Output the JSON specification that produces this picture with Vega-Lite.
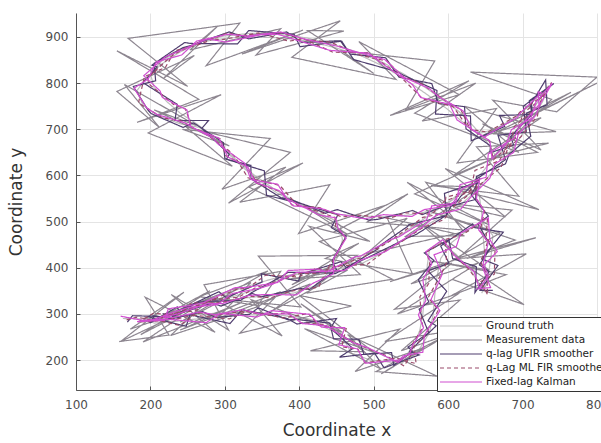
{
"$schema": "https://vega.github.io/schema/vega-lite/v6.json",
"width": 521, "height": 377,
"autosize": "none",
"padding": {"left": 76, "top": 13, "right": 4, "bottom": 53},
"background": "white",
"config": {
  "view": {"stroke": null},
  "axis": {"gridColor": "#e4e4e4", "gridWidth": 1, "domainColor": "#555", "domainWidth": 1, "tickColor": "#555", "tickSize": -4, "labelColor": "#4d4d4d", "labelFont": "DejaVu Sans", "labelFontSize": 12, "labelFlush": false, "titleFont": "DejaVu Sans", "titleFontSize": 17, "titleFontWeight": "normal", "titleColor": "#333"},
  "axisX": {"labelPadding": 13, "titlePadding": 12},
  "axisY": {"labelPadding": 12, "titlePadding": 20},
  "legend": {"orient": "none", "legendX": 361, "legendY": 304, "symbolType": "stroke", "symbolSize": 1764, "clipHeight": 14, "rowPadding": 0, "padding": 2, "labelFont": "DejaVu Sans", "labelFontSize": 10.5, "labelColor": "#222", "strokeColor": "#333", "fillColor": "white", "symbolStrokeWidth": 1.2, "labelOffset": 3, "labelLimit": 300}
},
"data": {"values": [
{"i":0,"tx":163,"ty":290,"zx":158,"zy":240,"ux":169,"uy":282,"mx":168,"my":287,"kx":160,"ky":295},
{"i":1,"tx":185,"ty":289,"zx":225,"zy":254,"ux":176,"uy":296,"mx":182,"my":293,"kx":189,"ky":286},
{"i":2,"tx":208,"ty":291,"zx":193,"zy":336,"ux":219,"uy":294,"mx":204,"my":286,"kx":203,"ky":287},
{"i":3,"tx":232,"ty":300,"zx":287,"zy":260,"ux":226,"uy":290,"mx":238,"my":303,"kx":235,"ky":306},
{"i":4,"tx":258,"ty":312,"zx":228,"zy":342,"ux":262,"uy":324,"mx":260,"my":306,"kx":252,"ky":314},
{"i":5,"tx":285,"ty":325,"zx":305,"zy":265,"ux":273,"uy":327,"mx":280,"my":330,"kx":290,"ky":320},
{"i":6,"tx":312,"ty":338,"zx":272,"zy":363,"ux":321,"uy":329,"mx":318,"my":336,"kx":310,"ky":344},
{"i":7,"tx":340,"ty":352,"zx":375,"zy":392,"ux":336,"uy":346,"mx":343,"my":358,"kx":346,"ky":355},
{"i":8,"tx":368,"ty":370,"zx":343,"zy":315,"ux":375,"uy":380,"mx":362,"my":366,"kx":364,"ky":364},
{"i":9,"tx":395,"ty":385,"zx":445,"zy":405,"ux":385,"uy":390,"mx":400,"my":387,"kx":397,"ky":390},
{"i":10,"tx":425,"ty":393,"zx":390,"zy":363,"ux":437,"uy":389,"mx":423,"my":388,"kx":420,"ky":391},
{"i":11,"tx":455,"ty":398,"zx":480,"zy":453,"ux":448,"uy":387,"mx":451,"my":404,"kx":461,"ky":394},
{"i":12,"tx":485,"ty":410,"zx":435,"zy":420,"ux":488,"uy":419,"mx":491,"my":407,"kx":482,"ky":416},
{"i":13,"tx":512,"ty":432,"zx":552,"zy":387,"ux":501,"uy":429,"mx":515,"my":436,"kx":516,"ky":435},
{"i":14,"tx":538,"ty":458,"zx":518,"zy":508,"ux":546,"uy":465,"mx":533,"my":452,"kx":532,"ky":453},
{"i":15,"tx":562,"ty":484,"zx":622,"zy":469,"ux":557,"uy":472,"mx":566,"my":487,"kx":565,"ky":488},
{"i":16,"tx":588,"ty":508,"zx":543,"zy":468,"ux":598,"uy":514,"mx":594,"my":504,"kx":584,"ky":514},
{"i":17,"tx":612,"ty":530,"zx":642,"zy":575,"ux":604,"uy":534,"mx":609,"my":535,"kx":617,"ky":527},
{"i":18,"tx":632,"ty":558,"zx":577,"zy":578,"ux":637,"uy":548,"mx":626,"my":556,"kx":630,"ky":552},
{"i":19,"tx":650,"ty":590,"zx":695,"zy":555,"ux":638,"uy":598,"mx":654,"my":596,"kx":656,"ky":594},
{"i":20,"tx":668,"ty":622,"zx":638,"zy":662,"ux":677,"uy":625,"mx":671,"my":617,"kx":663,"ky":625},
{"i":21,"tx":685,"ty":655,"zx":735,"zy":670,"ux":682,"uy":646,"mx":680,"my":658,"kx":688,"ky":650},
{"i":22,"tx":700,"ty":690,"zx":660,"zy":640,"ux":711,"uy":685,"mx":698,"my":684,"kx":694,"ky":688},
{"i":23,"tx":714,"ty":725,"zx":739,"zy":765,"ux":705,"uy":735,"mx":720,"my":729,"kx":718,"ky":731},
{"i":24,"tx":727,"ty":760,"zx":630,"zy":824,"ux":733,"uy":753,"mx":723,"my":757,"kx":724,"ky":756},
{"i":25,"tx":735,"ty":795,"zx":800,"zy":813,"ux":731,"uy":807,"mx":739,"my":801,"kx":740,"ky":800},
{"i":26,"tx":722,"ty":762,"zx":746,"zy":738,"ux":712,"uy":756,"mx":719,"my":758,"kx":718,"ky":759},
{"i":27,"tx":705,"ty":728,"zx":660,"zy":763,"ux":713,"uy":733,"mx":700,"my":734,"kx":711,"ky":723},
{"i":28,"tx":690,"ty":695,"zx":725,"zy":655,"ux":684,"uy":684,"mx":694,"my":690,"kx":685,"ky":699},
{"i":29,"tx":676,"ty":662,"zx":646,"zy":712,"ux":688,"uy":666,"mx":682,"my":664,"kx":678,"ky":668},
{"i":30,"tx":665,"ty":640,"zx":720,"zy":650,"ux":656,"uy":649,"mx":661,"my":634,"kx":659,"ky":636},
{"i":31,"tx":652,"ty":672,"zx":612,"zy":627,"ux":657,"uy":664,"mx":655,"my":676,"kx":656,"ky":675},
{"i":32,"tx":635,"ty":705,"zx":665,"zy":745,"ux":624,"uy":701,"mx":629,"my":702,"kx":632,"ky":699},
{"i":33,"tx":615,"ty":738,"zx":565,"zy":718,"ux":622,"uy":749,"mx":617,"my":743,"kx":620,"ky":740},
{"i":34,"tx":592,"ty":765,"zx":637,"zy":800,"ux":587,"uy":756,"mx":597,"my":761,"kx":588,"ky":770},
{"i":35,"tx":568,"ty":792,"zx":543,"zy":742,"ux":578,"uy":799,"mx":565,"my":798,"kx":574,"ky":789},
{"i":36,"tx":542,"ty":818,"zx":582,"zy":848,"ux":534,"uy":813,"mx":537,"my":816,"kx":540,"ky":813},
{"i":37,"tx":512,"ty":845,"zx":457,"zy":870,"ux":516,"uy":855,"mx":518,"my":848,"kx":515,"ky":851},
{"i":38,"tx":480,"ty":866,"zx":500,"zy":821,"ux":468,"uy":863,"mx":483,"my":860,"kx":474,"ky":869},
{"i":39,"tx":446,"ty":884,"zx":411,"zy":914,"ux":455,"uy":892,"mx":442,"my":889,"kx":451,"ky":880},
{"i":40,"tx":410,"ty":898,"zx":460,"zy":913,"ux":404,"uy":888,"mx":408,"my":894,"kx":406,"ky":896},
{"i":41,"tx":372,"ty":906,"zx":342,"zy":861,"ux":383,"uy":911,"mx":377,"my":909,"kx":375,"ky":911},
{"i":42,"tx":335,"ty":908,"zx":375,"zy":918,"ux":332,"uy":896,"mx":329,"my":903,"kx":330,"ky":902},
{"i":43,"tx":298,"ty":902,"zx":253,"zy":872,"ux":306,"uy":911,"mx":302,"my":908,"kx":304,"ky":906},
{"i":44,"tx":265,"ty":888,"zx":290,"zy":923,"ux":255,"uy":882,"mx":268,"my":885,"kx":262,"ky":891},
{"i":45,"tx":238,"ty":866,"zx":218,"zy":811,"ux":244,"uy":877,"mx":233,"my":870,"kx":242,"ky":861},
{"i":46,"tx":214,"ty":840,"zx":259,"zy":860,"ux":205,"uy":843,"mx":220,"my":834,"kx":208,"ky":846},
{"i":47,"tx":195,"ty":812,"zx":155,"zy":782,"ux":207,"uy":805,"mx":192,"my":814,"kx":197,"ky":809},
{"i":48,"tx":182,"ty":784,"zx":212,"zy":704,"ux":177,"uy":793,"mx":187,"my":780,"kx":178,"ky":789},
{"i":49,"tx":190,"ty":752,"zx":165,"zy":797,"ux":197,"uy":741,"mx":184,"my":757,"kx":195,"ky":746},
{"i":50,"tx":212,"ty":728,"zx":262,"zy":708,"ux":201,"uy":734,"mx":216,"my":725,"kx":209,"ky":732},
{"i":51,"tx":240,"ty":712,"zx":205,"zy":742,"ux":244,"uy":704,"mx":242,"my":718,"kx":246,"ky":714},
{"i":52,"tx":266,"ty":704,"zx":306,"zy":664,"ux":258,"uy":714,"mx":262,"my":699,"kx":261,"ky":700},
{"i":53,"tx":288,"ty":675,"zx":243,"zy":700,"ux":298,"uy":671,"mx":294,"my":679,"kx":292,"ky":681},
{"i":54,"tx":306,"ty":645,"zx":361,"zy":680,"ux":300,"uy":636,"mx":301,"my":643,"kx":304,"ky":640},
{"i":55,"tx":326,"ty":615,"zx":296,"zy":570,"ux":335,"uy":622,"mx":329,"my":620,"kx":331,"ky":618},
{"i":56,"tx":347,"ty":588,"zx":382,"zy":618,"ux":335,"uy":593,"mx":344,"my":582,"kx":341,"ky":585},
{"i":57,"tx":370,"ty":562,"zx":320,"zy":542,"ux":375,"uy":552,"mx":375,"my":565,"kx":373,"ky":567},
{"i":58,"tx":396,"ty":540,"zx":441,"zy":580,"ux":389,"uy":548,"mx":390,"my":536,"kx":392,"ky":534},
{"i":59,"tx":424,"ty":524,"zx":399,"zy":474,"ux":435,"uy":518,"mx":428,"my":530,"kx":430,"ky":528},
{"i":60,"tx":455,"ty":515,"zx":515,"zy":535,"ux":451,"uy":526,"mx":457,"my":510,"kx":450,"ky":517},
{"i":61,"tx":486,"ty":512,"zx":446,"zy":477,"ux":494,"uy":503,"mx":480,"my":514,"kx":488,"ky":506},
{"i":62,"tx":516,"ty":510,"zx":546,"zy":560,"ux":506,"uy":505,"mx":521,"my":507,"kx":513,"ky":515},
{"i":63,"tx":546,"ty":514,"zx":491,"zy":499,"ux":552,"uy":524,"mx":543,"my":519,"kx":551,"ky":511},
{"i":64,"tx":574,"ty":522,"zx":619,"zy":482,"ux":565,"uy":515,"mx":578,"my":516,"kx":568,"ky":526},
{"i":65,"tx":600,"ty":540,"zx":570,"zy":585,"ux":612,"uy":544,"mx":595,"my":544,"kx":604,"ky":535},
{"i":66,"tx":622,"ty":566,"zx":722,"zy":526,"ux":617,"uy":555,"mx":628,"my":564,"kx":620,"ky":572},
{"i":67,"tx":636,"ty":585,"zx":596,"zy":615,"ux":643,"uy":594,"mx":639,"my":591,"kx":642,"ky":588},
{"i":68,"tx":642,"ty":555,"zx":677,"zy":510,"ux":631,"uy":558,"mx":637,"my":551,"kx":638,"ky":550},
{"i":69,"tx":645,"ty":520,"zx":595,"zy":540,"ux":654,"uy":512,"mx":649,"my":523,"kx":648,"ky":524},
{"i":70,"tx":646,"ty":485,"zx":686,"zy":525,"ux":640,"uy":495,"mx":643,"my":480,"kx":641,"ky":482},
{"i":71,"tx":648,"ty":450,"zx":613,"zy":420,"ux":658,"uy":445,"mx":653,"my":456,"kx":654,"ky":455},
{"i":72,"tx":650,"ty":415,"zx":705,"zy":430,"ux":642,"uy":406,"mx":644,"my":412,"kx":647,"ky":409},
{"i":73,"tx":650,"ty":380,"zx":605,"zy":340,"ux":655,"uy":392,"mx":652,"my":384,"kx":654,"ky":382},
{"i":74,"tx":648,"ty":350,"zx":678,"zy":385,"ux":636,"uy":346,"mx":653,"my":344,"kx":642,"ky":355},
{"i":75,"tx":630,"ty":395,"zx":575,"zy":415,"ux":638,"uy":402,"mx":626,"my":400,"kx":635,"ky":391},
{"i":76,"tx":610,"ty":430,"zx":655,"zy":395,"ux":606,"uy":420,"mx":607,"my":428,"kx":608,"ky":427},
{"i":77,"tx":590,"ty":455,"zx":560,"zy":500,"ux":601,"uy":461,"mx":596,"my":458,"kx":593,"ky":461},
{"i":78,"tx":575,"ty":440,"zx":615,"zy":420,"ux":568,"uy":432,"mx":571,"my":434,"kx":570,"ky":435},
{"i":79,"tx":572,"ty":405,"zx":522,"zy":370,"ux":581,"uy":416,"mx":575,"my":411,"kx":578,"ky":408},
{"i":80,"tx":570,"ty":370,"zx":605,"zy":410,"ux":560,"uy":374,"mx":574,"my":366,"kx":566,"ky":374},
{"i":81,"tx":568,"ty":335,"zx":528,"zy":310,"ux":574,"uy":326,"mx":562,"my":337,"kx":570,"ky":329},
{"i":82,"tx":566,"ty":300,"zx":616,"zy":330,"ux":561,"uy":310,"mx":564,"my":294,"kx":560,"ky":298},
{"i":83,"tx":562,"ty":265,"zx":537,"zy":220,"ux":574,"uy":259,"mx":566,"my":271,"kx":567,"ky":270},
{"i":84,"tx":555,"ty":235,"zx":600,"zy":255,"ux":546,"uy":228,"mx":551,"my":232,"kx":552,"ky":231},
{"i":85,"tx":545,"ty":210,"zx":510,"zy":170,"ux":552,"uy":219,"mx":551,"my":214,"kx":549,"ky":216},
{"i":86,"tx":538,"ty":192,"zx":568,"zy":227,"ux":527,"uy":188,"mx":541,"my":187,"kx":533,"ky":195},
{"i":87,"tx":520,"ty":205,"zx":475,"zy":175,"ux":524,"uy":216,"mx":515,"my":211,"kx":526,"ky":200},
{"i":88,"tx":495,"ty":222,"zx":535,"zy":267,"ux":487,"uy":212,"mx":499,"my":220,"kx":493,"ky":226},
{"i":89,"tx":470,"ty":240,"zx":415,"zy":220,"ux":480,"uy":245,"mx":467,"my":243,"kx":473,"ky":237},
{"i":90,"tx":452,"ty":258,"zx":487,"zy":218,"ux":446,"uy":246,"mx":458,"my":252,"kx":446,"ky":264},
{"i":91,"tx":432,"ty":272,"zx":402,"zy":322,"ux":441,"uy":280,"mx":434,"my":277,"kx":437,"ky":274},
{"i":92,"tx":408,"ty":285,"zx":458,"zy":260,"ux":396,"uy":288,"mx":402,"my":281,"kx":404,"ky":279},
{"i":93,"tx":380,"ty":296,"zx":335,"zy":331,"ux":385,"uy":287,"mx":384,"my":302,"kx":386,"ky":300},
{"i":94,"tx":352,"ty":302,"zx":377,"zy":252,"ux":345,"uy":313,"mx":350,"my":298,"kx":349,"ky":299},
{"i":95,"tx":322,"ty":304,"zx":282,"zy":334,"ux":333,"uy":299,"mx":327,"my":306,"kx":324,"ky":309},
{"i":96,"tx":292,"ty":302,"zx":347,"zy":317,"ux":288,"uy":292,"mx":288,"my":297,"kx":287,"ky":298},
{"i":97,"tx":262,"ty":298,"zx":227,"zy":253,"ux":270,"uy":305,"mx":268,"my":302,"kx":266,"ky":304},
{"i":98,"tx":236,"ty":294,"zx":281,"zy":334,"ux":226,"uy":288,"mx":234,"my":288,"kx":230,"ky":292},
{"i":99,"tx":212,"ty":290,"zx":187,"zy":255,"ux":218,"uy":300,"mx":215,"my":295,"kx":217,"ky":293},
{"i":100,"tx":240,"ty":305,"zx":280,"zy":350,"ux":231,"uy":297,"mx":235,"my":302,"kx":237,"ky":300},
{"i":101,"tx":270,"ty":318,"zx":220,"zy":298,"ux":282,"uy":323,"mx":274,"my":324,"kx":276,"ky":322},
{"i":102,"tx":300,"ty":328,"zx":335,"zy":368,"ux":295,"uy":317,"mx":294,"my":324,"kx":296,"ky":322},
{"i":103,"tx":330,"ty":335,"zx":290,"zy":290,"ux":337,"uy":344,"mx":335,"my":338,"kx":333,"ky":340},
{"i":104,"tx":360,"ty":340,"zx":415,"zy":365,"ux":349,"uy":337,"mx":362,"my":335,"kx":355,"ky":342},
{"i":105,"tx":392,"ty":345,"zx":362,"zy":305,"ux":401,"uy":355,"mx":388,"my":349,"kx":396,"ky":341},
{"i":106,"tx":420,"ty":360,"zx":465,"zy":395,"ux":414,"uy":353,"mx":426,"my":358,"kx":418,"ky":366},
{"i":107,"tx":440,"ty":390,"zx":385,"zy":375,"ux":450,"uy":396,"mx":437,"my":396,"kx":446,"ky":387},
{"i":108,"tx":452,"ty":425,"zx":482,"zy":385,"ux":444,"uy":414,"mx":447,"my":419,"kx":446,"ky":420},
{"i":109,"tx":458,"ty":460,"zx":413,"zy":490,"ux":463,"uy":468,"mx":462,"my":465,"kx":463,"ky":464},
{"i":110,"tx":455,"ty":492,"zx":495,"zy":457,"ux":443,"uy":487,"mx":449,"my":489,"kx":452,"ky":486},
{"i":111,"tx":445,"ty":505,"zx":410,"zy":530,"ux":452,"uy":515,"mx":448,"my":509,"kx":449,"ky":508},
{"i":112,"tx":420,"ty":522,"zx":465,"zy":472,"ux":408,"uy":536,"mx":412,"my":529,"kx":427,"ky":514},
{"i":113,"tx":392,"ty":545,"zx":332,"zy":575,"ux":407,"uy":537,"mx":397,"my":536,"kx":383,"ky":550},
{"i":114,"tx":365,"ty":572,"zx":405,"zy":627,"ux":356,"uy":557,"mx":374,"my":578,"kx":371,"ky":581},
{"i":115,"tx":340,"ty":600,"zx":305,"zy":540,"ux":353,"uy":610,"mx":331,"my":595,"kx":335,"ky":591},
{"i":116,"tx":318,"ty":630,"zx":388,"zy":650,"ux":302,"uy":635,"mx":314,"my":639,"kx":327,"ky":626},
{"i":117,"tx":298,"ty":660,"zx":248,"zy":705,"ux":306,"uy":646,"mx":306,"my":653,"kx":291,"ky":668},
{"i":118,"tx":280,"ty":690,"zx":310,"zy":620,"ux":269,"uy":702,"mx":271,"my":694,"kx":284,"ky":681},
{"i":119,"tx":262,"ty":712,"zx":197,"zy":692,"ux":278,"uy":719,"mx":256,"my":704,"kx":254,"ky":706},
{"i":120,"tx":240,"ty":735,"zx":295,"zy":775,"ux":233,"uy":719,"mx":247,"my":744,"kx":249,"ky":742},
{"i":121,"tx":222,"ty":760,"zx":182,"zy":715,"ux":236,"uy":754,"mx":231,"my":754,"kx":216,"ky":769},
{"i":122,"tx":205,"ty":790,"zx":265,"zy":765,"ux":190,"uy":801,"mx":198,"my":798,"kx":213,"ky":783},
{"i":123,"tx":200,"ty":820,"zx":155,"zy":870,"ux":209,"uy":835,"mx":196,"my":811,"kx":191,"ky":816},
{"i":124,"tx":215,"ty":848,"zx":250,"zy":793,"ux":202,"uy":839,"mx":224,"my":853,"kx":220,"ky":857},
{"i":125,"tx":240,"ty":872,"zx":170,"zy":897,"ux":246,"uy":888,"mx":233,"my":864,"kx":232,"ky":865},
{"i":126,"tx":270,"ty":890,"zx":320,"zy":930,"ux":254,"uy":886,"mx":276,"my":897,"kx":277,"ky":896},
{"i":127,"tx":305,"ty":898,"zx":275,"zy":838,"ux":317,"uy":885,"mx":296,"my":894,"kx":301,"ky":889},
{"i":128,"tx":340,"ty":900,"zx":405,"zy":915,"ux":332,"uy":914,"mx":345,"my":909,"kx":349,"ky":905},
{"i":129,"tx":378,"ty":898,"zx":323,"zy":863,"ux":393,"uy":906,"mx":386,"my":891,"kx":371,"ky":906},
{"i":130,"tx":415,"ty":890,"zx":455,"zy":935,"ux":401,"uy":879,"mx":406,"my":896,"kx":421,"ky":881},
{"i":131,"tx":450,"ty":876,"zx":390,"zy":856,"ux":457,"uy":891,"mx":445,"my":867,"kx":441,"ky":871},
{"i":132,"tx":485,"ty":858,"zx":530,"zy":808,"ux":473,"uy":851,"mx":492,"my":866,"kx":493,"ky":865},
{"i":133,"tx":515,"ty":835,"zx":480,"zy":890,"ux":531,"uy":825,"mx":524,"my":830,"kx":510,"ky":844},
{"i":134,"tx":545,"ty":805,"zx":615,"zy":775,"ux":539,"uy":818,"mx":537,"my":812,"kx":552,"ky":797},
{"i":135,"tx":572,"ty":775,"zx":522,"zy":730,"ux":585,"uy":784,"mx":566,"my":766,"kx":563,"ky":769},
{"i":136,"tx":598,"ty":745,"zx":628,"zy":805,"ux":583,"uy":733,"mx":607,"my":749,"kx":602,"ky":754},
{"i":137,"tx":620,"ty":715,"zx":555,"zy":735,"ux":630,"uy":729,"mx":625,"my":707,"kx":612,"ky":720},
{"i":138,"tx":640,"ty":690,"zx":695,"zy":650,"ux":631,"uy":675,"mx":633,"my":699,"kx":649,"ky":683},
{"i":139,"tx":662,"ty":700,"zx":622,"zy":750,"ux":676,"uy":706,"mx":653,"my":694,"kx":656,"ky":691},
{"i":140,"tx":685,"ty":720,"zx":745,"zy":695,"ux":669,"uy":730,"mx":691,"my":728,"kx":693,"ky":726},
{"i":141,"tx":705,"ty":745,"zx":660,"zy":690,"ux":713,"uy":732,"mx":697,"my":738,"kx":698,"ky":737},
{"i":142,"tx":720,"ty":770,"zx":800,"zy":800,"ux":709,"uy":762,"mx":729,"my":775,"kx":725,"ky":779},
{"i":143,"tx":730,"ty":785,"zx":700,"zy":720,"ux":742,"uy":799,"mx":726,"my":776,"kx":721,"ky":781},
{"i":144,"tx":715,"ty":745,"zx":765,"zy":780,"ux":701,"uy":750,"mx":723,"my":752,"kx":722,"ky":753},
{"i":145,"tx":698,"ty":710,"zx":638,"zy":680,"ux":705,"uy":694,"mx":689,"my":706,"kx":694,"ky":701},
{"i":146,"tx":680,"ty":675,"zx":725,"zy":725,"ux":667,"uy":687,"mx":686,"my":684,"kx":689,"ky":681},
{"i":147,"tx":662,"ty":640,"zx":607,"zy":600,"ux":677,"uy":634,"mx":669,"my":632,"kx":654,"ky":647},
{"i":148,"tx":645,"ty":605,"zx":680,"zy":650,"ux":637,"uy":591,"mx":636,"my":611,"kx":651,"ky":596},
{"i":149,"tx":625,"ty":575,"zx":555,"zy":560,"ux":641,"uy":586,"mx":630,"my":566,"kx":616,"ky":580},
{"i":150,"tx":605,"ty":548,"zx":655,"zy":493,"ux":595,"uy":561,"mx":597,"my":553,"kx":610,"ky":540},
{"i":151,"tx":585,"ty":525,"zx":545,"zy":585,"ux":598,"uy":513,"mx":594,"my":518,"kx":578,"ky":534},
{"i":152,"tx":562,"ty":500,"zx":627,"zy":480,"ux":547,"uy":493,"mx":566,"my":509,"kx":571,"ky":504},
{"i":153,"tx":540,"ty":475,"zx":490,"zy":430,"ux":546,"uy":490,"mx":532,"my":469,"kx":534,"ky":467},
{"i":154,"tx":515,"ty":452,"zx":545,"zy":507,"ux":503,"uy":442,"mx":524,"my":460,"kx":523,"ky":461},
{"i":155,"tx":492,"ty":432,"zx":427,"zy":457,"ux":506,"uy":441,"mx":486,"my":423,"kx":483,"ky":426},
{"i":156,"tx":470,"ty":415,"zx":525,"zy":375,"ux":463,"uy":400,"mx":478,"my":419,"kx":474,"ky":423},
{"i":157,"tx":445,"ty":400,"zx":410,"zy":345,"ux":456,"uy":413,"mx":436,"my":392,"kx":437,"ky":391},
{"i":158,"tx":418,"ty":392,"zx":478,"zy":427,"ux":402,"uy":386,"mx":423,"my":399,"kx":425,"ky":397},
{"i":159,"tx":390,"ty":385,"zx":345,"zy":425,"ux":399,"uy":371,"mx":399,"my":380,"kx":385,"ky":394},
{"i":160,"tx":362,"ty":375,"zx":402,"zy":315,"ux":349,"uy":387,"mx":355,"my":384,"kx":371,"ky":368},
{"i":161,"tx":335,"ty":362,"zx":265,"zy":337,"ux":350,"uy":369,"mx":330,"my":355,"kx":328,"ky":357},
{"i":162,"tx":308,"ty":348,"zx":358,"zy":393,"ux":302,"uy":335,"mx":317,"my":354,"kx":314,"ky":357},
{"i":163,"tx":280,"ty":332,"zx":240,"zy":282,"ux":292,"uy":348,"mx":272,"my":323,"kx":271,"ky":324},
{"i":164,"tx":252,"ty":316,"zx":317,"zy":346,"ux":238,"uy":307,"mx":256,"my":324,"kx":260,"ky":320},
{"i":165,"tx":228,"ty":302,"zx":173,"zy":267,"ux":236,"uy":315,"mx":237,"my":298,"kx":224,"ky":311},
{"i":166,"tx":210,"ty":292,"zx":245,"zy":347,"ux":199,"uy":280,"mx":204,"my":301,"kx":219,"ky":286},
{"i":167,"tx":190,"ty":290,"zx":160,"zy":240,"ux":206,"uy":296,"mx":183,"my":282,"kx":182,"ky":283},
{"i":168,"tx":205,"ty":280,"zx":265,"zy":320,"ux":196,"uy":294,"mx":213,"my":285,"kx":210,"ky":288},
{"i":169,"tx":235,"ty":284,"zx":190,"zy":239,"ux":248,"uy":273,"mx":239,"my":275,"kx":226,"ky":288},
{"i":170,"tx":268,"ty":290,"zx":323,"zy":325,"ux":253,"uy":298,"mx":259,"my":297,"kx":275,"ky":281},
{"i":171,"tx":300,"ty":295,"zx":240,"zy":265,"ux":307,"uy":279,"mx":306,"my":289,"kx":294,"ky":301},
{"i":172,"tx":335,"ty":298,"zx":375,"zy":348,"ux":323,"uy":309,"mx":330,"my":306,"kx":343,"ky":293},
{"i":173,"tx":370,"ty":298,"zx":320,"zy":258,"ux":384,"uy":290,"mx":379,"my":291,"kx":363,"ky":307},
{"i":174,"tx":405,"ty":292,"zx":470,"zy":317,"ux":397,"uy":278,"mx":412,"my":301,"kx":414,"ky":299},
{"i":175,"tx":435,"ty":280,"zx":400,"zy":340,"ux":450,"uy":290,"mx":426,"my":275,"kx":430,"ky":271},
{"i":176,"tx":455,"ty":262,"zx":500,"zy":217,"ux":442,"uy":269,"mx":463,"my":268,"kx":461,"ky":270},
{"i":177,"tx":462,"ty":238,"zx":407,"zy":268,"ux":472,"uy":225,"mx":457,"my":229,"kx":453,"ky":233},
{"i":178,"tx":470,"ty":215,"zx":510,"zy":180,"ux":454,"uy":206,"mx":479,"my":223,"kx":478,"ky":224},
{"i":179,"tx":495,"ty":200,"zx":465,"zy":255,"ux":501,"uy":215,"mx":488,"my":194,"kx":489,"ky":193},
{"i":180,"tx":525,"ty":195,"zx":585,"zy":165,"ux":514,"uy":183,"mx":530,"my":204,"kx":534,"ky":200},
{"i":181,"tx":548,"ty":200,"zx":503,"zy":175,"ux":561,"uy":211,"mx":557,"my":192,"kx":540,"ky":209},
{"i":182,"tx":562,"ty":225,"zx":612,"zy":265,"ux":548,"uy":219,"mx":554,"my":229,"kx":566,"ky":217},
{"i":183,"tx":575,"ty":260,"zx":515,"zy":240,"ux":584,"uy":274,"mx":569,"my":253,"kx":568,"ky":254},
{"i":184,"tx":580,"ty":300,"zx":615,"zy":345,"ux":573,"uy":285,"mx":587,"my":309,"kx":589,"ky":307},
{"i":185,"tx":582,"ty":340,"zx":532,"zy":300,"ux":598,"uy":349,"mx":573,"my":335,"kx":577,"ky":331},
{"i":186,"tx":585,"ty":380,"zx":640,"zy":410,"ux":573,"uy":393,"mx":591,"my":387,"kx":592,"ky":386},
{"i":187,"tx":590,"ty":420,"zx":550,"zy":365,"ux":601,"uy":410,"mx":598,"my":411,"kx":581,"ky":428},
{"i":188,"tx":605,"ty":455,"zx":670,"zy":475,"ux":590,"uy":447,"mx":596,"my":461,"kx":611,"ky":446},
{"i":189,"tx":625,"ty":480,"zx":570,"zy":525,"ux":633,"uy":495,"mx":620,"my":472,"kx":617,"ky":475},
{"i":190,"tx":645,"ty":500,"zx":690,"zy":460,"ux":635,"uy":487,"mx":653,"my":509,"kx":654,"ky":508},
{"i":191,"tx":660,"ty":470,"zx":625,"zy":420,"ux":674,"uy":477,"mx":651,"my":466,"kx":656,"ky":461},
{"i":192,"tx":658,"ty":430,"zx":718,"zy":465,"ux":645,"uy":419,"mx":663,"my":438,"kx":666,"ky":435},
{"i":193,"tx":655,"ty":395,"zx":610,"zy":420,"ux":667,"uy":405,"mx":662,"my":386,"kx":646,"ky":402},
{"i":194,"tx":652,"ty":365,"zx":702,"zy":320,"ux":643,"uy":351,"mx":644,"my":370,"kx":657,"ky":357},
{"i":195,"tx":645,"ty":345,"zx":605,"zy":375,"ux":660,"uy":351,"mx":654,"my":338,"kx":638,"ky":354}
]},
"layer": [
 {"mark": {"type": "line", "strokeWidth": 1.2, "clip": true},
  "encoding": {
   "x": {"field": "tx", "type": "quantitative", "title": "Coordinate x", "scale": {"domain": [100, 800], "nice": false, "zero": false}, "axis": {"values": [100,200,300,400,500,600,700,800]}},
   "y": {"field": "ty", "type": "quantitative", "title": "Coordinate y", "scale": {"domain": [135, 952], "nice": false, "zero": false}, "axis": {"values": [200,300,400,500,600,700,800,900]}},
   "order": {"field": "i", "type": "quantitative"},
   "color": {"datum": "Ground truth", "type": "nominal", "title": null, "scale": {"domain": ["Ground truth","Measurement data","q-lag UFIR smoother","q-Lag ML FIR smoother","Fixed-lag Kalman"], "range": ["#bdbdbd","#8d8690","#4e3d6e","#9a4a6a","#d04ed0"]}},
   "strokeDash": {"datum": "Ground truth", "type": "nominal", "title": null, "scale": {"domain": ["Ground truth","Measurement data","q-lag UFIR smoother","q-Lag ML FIR smoother","Fixed-lag Kalman"], "range": [[1,0],[1,0],[1,0],[4,3],[1,0]]}}
  }},
 {"mark": {"type": "line", "strokeWidth": 1.2, "clip": true},
  "encoding": {
   "x": {"field": "zx", "type": "quantitative", "title": "Coordinate x"},
   "y": {"field": "zy", "type": "quantitative", "title": "Coordinate y"},
   "order": {"field": "i", "type": "quantitative"},
   "color": {"datum": "Measurement data", "type": "nominal", "title": null},
   "strokeDash": {"datum": "Measurement data", "type": "nominal", "title": null}
  }},
 {"mark": {"type": "line", "strokeWidth": 1.2, "clip": true},
  "encoding": {
   "x": {"field": "ux", "type": "quantitative", "title": "Coordinate x"},
   "y": {"field": "uy", "type": "quantitative", "title": "Coordinate y"},
   "order": {"field": "i", "type": "quantitative"},
   "color": {"datum": "q-lag UFIR smoother", "type": "nominal", "title": null},
   "strokeDash": {"datum": "q-lag UFIR smoother", "type": "nominal", "title": null}
  }},
 {"mark": {"type": "line", "strokeWidth": 1.2, "clip": true},
  "encoding": {
   "x": {"field": "mx", "type": "quantitative", "title": "Coordinate x"},
   "y": {"field": "my", "type": "quantitative", "title": "Coordinate y"},
   "order": {"field": "i", "type": "quantitative"},
   "color": {"datum": "q-Lag ML FIR smoother", "type": "nominal", "title": null},
   "strokeDash": {"datum": "q-Lag ML FIR smoother", "type": "nominal", "title": null}
  }},
 {"mark": {"type": "line", "strokeWidth": 1.2, "clip": true},
  "encoding": {
   "x": {"field": "kx", "type": "quantitative", "title": "Coordinate x"},
   "y": {"field": "ky", "type": "quantitative", "title": "Coordinate y"},
   "order": {"field": "i", "type": "quantitative"},
   "color": {"datum": "Fixed-lag Kalman", "type": "nominal", "title": null},
   "strokeDash": {"datum": "Fixed-lag Kalman", "type": "nominal", "title": null}
  }}
]
}
